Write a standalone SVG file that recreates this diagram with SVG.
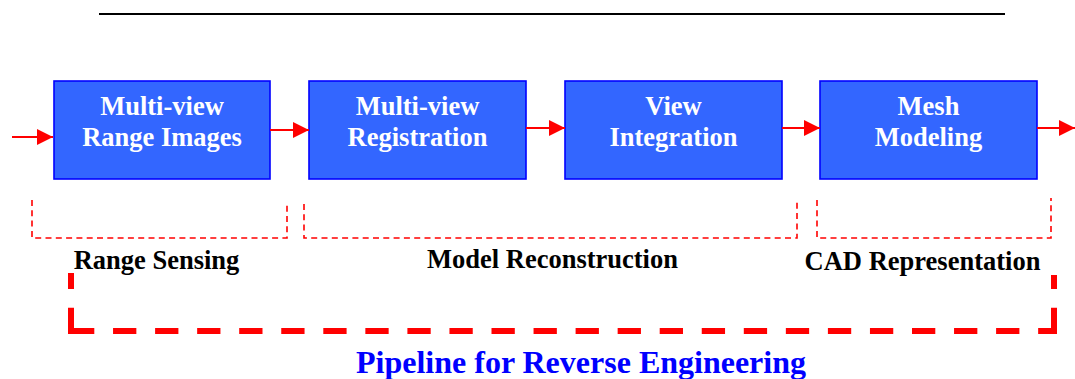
<svg xmlns="http://www.w3.org/2000/svg" width="1075" height="379" viewBox="0 0 1075 379">
<style>
.box{fill:#3366FF;stroke:#0000FF;stroke-width:1.6}
.bt{font-family:"Liberation Serif",serif;font-weight:bold;font-size:26.5px;fill:#FFFFFF;text-anchor:middle}
.lbl{font-family:"Liberation Serif",serif;font-weight:bold;font-size:26.5px;fill:#000000;text-anchor:middle}
.title{font-family:"Liberation Serif",serif;font-weight:bold;font-size:32px;fill:#0000FF;text-anchor:middle}
.arr{stroke:#FF0000;stroke-width:2;fill:none;marker-end:url(#ah)}
.thin{stroke:#FF0000;stroke-width:1.6;fill:none;stroke-dasharray:6 4.3}
.thick{stroke:#FF0000;stroke-width:6;fill:none;stroke-dasharray:23.3 18.75}
</style>
<defs>
<marker id="ah" markerUnits="userSpaceOnUse" markerWidth="16" markerHeight="16" refX="16" refY="8" orient="auto">
<path d="M0,0 L16,8 L0,16 z" fill="#FF0000"/>
</marker>
</defs>
<line x1="99" y1="14" x2="1005" y2="14" stroke="#000000" stroke-width="2"/>
<g id="node-range-images">
<rect class="box" x="54" y="81" width="216" height="98"/>
<text class="bt" x="162" y="115">Multi-view</text>
<text class="bt" x="162" y="146">Range Images</text>
</g>
<g id="node-registration">
<rect class="box" x="309" y="81" width="217" height="98"/>
<text class="bt" x="417.5" y="115">Multi-view</text>
<text class="bt" x="417.5" y="146">Registration</text>
</g>
<g id="node-integration">
<rect class="box" x="565" y="81" width="217" height="98"/>
<text class="bt" x="673.5" y="115">View</text>
<text class="bt" x="673.5" y="146">Integration</text>
</g>
<g id="node-mesh">
<rect class="box" x="820" y="81" width="217" height="98"/>
<text class="bt" x="928.5" y="115">Mesh</text>
<text class="bt" x="928.5" y="146">Modeling</text>
</g>
<g id="connectors">
<line class="arr" x1="12" y1="137" x2="53" y2="137"/>
<line class="arr" x1="270" y1="130" x2="309" y2="130"/>
<line class="arr" x1="526" y1="128" x2="565" y2="128"/>
<line class="arr" x1="782" y1="128" x2="820" y2="128"/>
<line class="arr" x1="1037" y1="128" x2="1075" y2="128"/>
</g>
<g id="group-range-sensing">
<path class="thin" d="M32,200 V238 H287 V204"/>
<text class="lbl" x="156.5" y="269">Range Sensing</text>
</g>
<g id="group-model-reconstruction">
<path class="thin" d="M304,204 V238 H797 V200"/>
<text class="lbl" x="552.5" y="268">Model Reconstruction</text>
</g>
<g id="group-cad">
<path class="thin" d="M817,200 V238 H1051 V198"/>
<text class="lbl" x="922.5" y="270">CAD Representation</text>
</g>
<g id="pipeline">
<line class="thick" x1="71" y1="331" x2="71" y2="273"/>
<line class="thick" x1="1054" y1="331" x2="1054" y2="275"/>
<line class="thick" x1="71" y1="331" x2="1054" y2="331"/>
<rect x="68" y="328" width="6" height="6" fill="#FF0000"/>
<rect x="1051" y="328" width="6" height="6" fill="#FF0000"/>
<text class="title" x="581" y="373">Pipeline for Reverse Engineering</text>
</g>
</svg>
